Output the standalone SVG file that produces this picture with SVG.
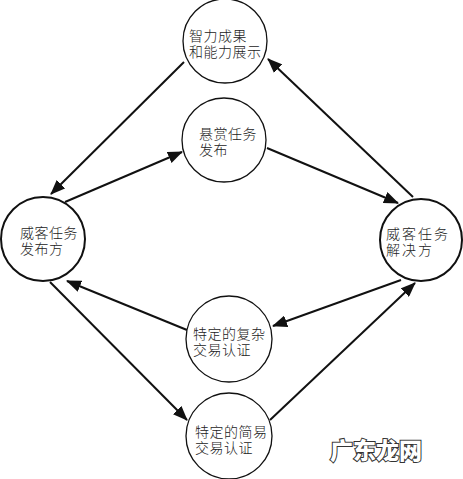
<svg xmlns="http://www.w3.org/2000/svg" width="463" height="479" viewBox="0 0 463 479">
<style>
.n{fill:#fff;stroke:#111;stroke-width:1.3}
.b{stroke-width:2}
.t{font-family:"Noto Sans CJK SC","Noto Sans",sans-serif;font-size:14px;font-weight:300;fill:#222;letter-spacing:0.5px}
.c{stroke:#111;stroke-width:2;fill:none;marker-end:url(#ah)}
.w{font-family:"Noto Sans CJK SC",sans-serif;font-size:23px;font-weight:900;fill:#fff;stroke:#333;stroke-width:2;paint-order:stroke}
</style>
<defs>
<marker id="ah" markerUnits="userSpaceOnUse" markerWidth="16" markerHeight="12" refX="14" refY="6" orient="auto">
<path d="M0,0 L15,6 L0,12 Z" fill="#111"/>
</marker>
</defs>
<rect width="463" height="479" fill="#fff"/>
<g id="connectors">
<line class="c" x1="413" y1="197" x2="268" y2="59"/>
<line class="c" x1="184" y1="62" x2="51" y2="194"/>
<line class="c" x1="65" y1="202" x2="182" y2="152"/>
<line class="c" x1="267" y1="148" x2="398" y2="203"/>
<line class="c" x1="401" y1="280" x2="273" y2="326"/>
<line class="c" x1="187" y1="330" x2="67" y2="281"/>
<line class="c" x1="50" y1="282" x2="187" y2="420"/>
<line class="c" x1="270" y1="420" x2="415" y2="283"/>
</g>
<g id="node-top">
<circle class="n" cx="225" cy="41" r="42"/>
<text class="t" x="189" y="41">智力成果<tspan x="189" dy="16">和能力展示</tspan></text>
</g>
<g id="node-reward">
<circle class="n" cx="224" cy="140" r="42"/>
<text class="t" x="199" y="139">悬赏任务<tspan x="199" dy="16">发布</tspan></text>
</g>
<g id="node-left">
<circle class="n b" cx="43" cy="239" r="42"/>
<text class="t" x="20" y="238">威客任务<tspan x="20" dy="16">发布方</tspan></text>
</g>
<g id="node-right">
<circle class="n b" cx="421" cy="240" r="41"/>
<text class="t" x="386" y="239" style="letter-spacing:2px">威客任务<tspan x="386" dy="16">解决方</tspan></text>
</g>
<g id="node-complex">
<circle class="n" cx="229" cy="339" r="43"/>
<text class="t" x="193" y="339">特定的复杂<tspan x="193" dy="16">交易认证</tspan></text>
</g>
<g id="node-simple">
<circle class="n" cx="229" cy="436" r="43"/>
<text class="t" x="195" y="437">特定的简易<tspan x="195" dy="16">交易认证</tspan></text>
</g>
<text class="w" x="330" y="459">广东龙网</text>
</svg>
